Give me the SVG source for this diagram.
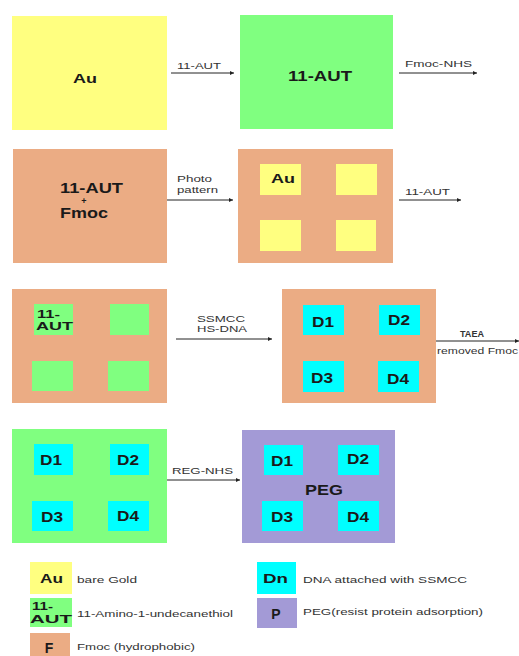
<svg xmlns="http://www.w3.org/2000/svg" width="519" height="656" viewBox="0 0 519 656">
<defs>
<style>
.y{fill:#FFFF80}.g{fill:#80FF80}.t{fill:#EBAC84}.c{fill:#00FFFF}.p{fill:#A39AD6}
.b{font-family:"Liberation Sans",Arial,sans-serif;font-weight:bold;fill:#1a1a1a}
.s{font-family:"Liberation Sans",Arial,sans-serif;font-size:9.5px;fill:#333}
.ln{stroke:#222;stroke-width:1;fill:none}
</style>
<marker id="ah" viewBox="0 0 10 10" refX="10" refY="5" markerWidth="7" markerHeight="4" markerUnits="userSpaceOnUse" orient="auto">
<path d="M0,0 L10,5 L0,10 z" fill="#222"/>
</marker>
</defs>
<rect width="519" height="656" fill="#fff"/>

<g id="connectors">
<line class="ln" x1="171" y1="73" x2="234" y2="73" stroke-width="2.2" marker-end="url(#ah)"/>
<text class="s" x="177" y="69" textLength="44" lengthAdjust="spacingAndGlyphs">11-AUT</text>
<line class="ln" x1="399" y1="73" x2="477" y2="73" marker-end="url(#ah)"/>
<text class="s" x="405" y="67" textLength="67" lengthAdjust="spacingAndGlyphs">Fmoc-NHS</text>
<line class="ln" x1="167" y1="200" x2="233" y2="200" marker-end="url(#ah)"/>
<text class="s" x="177" y="182" font-size="9" textLength="35" lengthAdjust="spacingAndGlyphs">Photo</text>
<text class="s" x="177" y="193" font-size="9" textLength="41" lengthAdjust="spacingAndGlyphs">pattern</text>
<line class="ln" x1="399" y1="200" x2="461" y2="200" marker-end="url(#ah)"/>
<text class="s" x="405" y="195" textLength="45" lengthAdjust="spacingAndGlyphs">11-AUT</text>
<line class="ln" x1="176" y1="339" x2="272" y2="339" marker-end="url(#ah)"/>
<text class="s" x="197" y="322" font-size="8" textLength="48" lengthAdjust="spacingAndGlyphs">SSMCC</text>
<text class="s" x="197" y="332" font-size="8" textLength="50" lengthAdjust="spacingAndGlyphs">HS-DNA</text>
<line class="ln" x1="435" y1="341" x2="519" y2="341" marker-end="url(#ah)"/>
<text class="s" x="460" y="337" font-size="10" font-weight="bold" fill="#222" textLength="24" lengthAdjust="spacingAndGlyphs">TAEA</text>
<text class="s" x="437" y="354" font-size="8.5" textLength="81" lengthAdjust="spacingAndGlyphs">removed Fmoc</text>
<line class="ln" x1="167" y1="480" x2="240" y2="480" stroke-width="1.4" marker-end="url(#ah)"/>
<text class="s" x="172" y="474" textLength="61" lengthAdjust="spacingAndGlyphs">REG-NHS</text>
</g>

<g id="n-au">
<rect class="y" x="12" y="16" width="155" height="114"/>
<text class="b" x="73" y="83" font-size="13" textLength="24" lengthAdjust="spacingAndGlyphs">Au</text>
</g>
<g id="n-aut">
<rect class="g" x="240" y="15" width="153" height="114"/>
<text class="b" x="288" y="81" font-size="15" textLength="64" lengthAdjust="spacingAndGlyphs">11-AUT</text>
</g>

<g id="n-autfmoc">
<rect class="t" x="13" y="149" width="154" height="114"/>
<text class="b" x="60" y="193" font-size="14" textLength="63" lengthAdjust="spacingAndGlyphs">11-AUT</text>
<text class="b" x="84" y="204" font-size="9" text-anchor="middle">+</text>
<text class="b" x="60" y="218" font-size="14" textLength="48" lengthAdjust="spacingAndGlyphs">Fmoc</text>
</g>
<g id="n-pattern">
<rect class="t" x="238" y="149" width="155" height="114"/>
<rect class="y" x="260" y="164" width="41" height="31"/>
<rect class="y" x="336" y="164" width="41" height="31"/>
<rect class="y" x="260" y="220" width="41" height="31"/>
<rect class="y" x="336" y="220" width="40" height="31"/>
<text class="b" x="271" y="183" font-size="13" textLength="24" lengthAdjust="spacingAndGlyphs">Au</text>
</g>

<g id="n-autpattern">
<rect class="t" x="12" y="289" width="155" height="114"/>
<rect class="g" x="34" y="304" width="39" height="31"/>
<rect class="g" x="110" y="304" width="39" height="31"/>
<rect class="g" x="32" y="361" width="41" height="30"/>
<rect class="g" x="108" y="361" width="41" height="30"/>
<text class="b" x="37" y="318" font-size="10.5" textLength="23" lengthAdjust="spacingAndGlyphs">11-</text>
<text class="b" x="36" y="330" font-size="10.5" textLength="37" lengthAdjust="spacingAndGlyphs">AUT</text>
</g>
<g id="n-dna">
<rect class="t" x="282" y="289" width="154" height="114"/>
<rect class="c" x="303" y="305" width="41" height="30"/>
<rect class="c" x="379" y="305" width="41" height="30"/>
<rect class="c" x="303" y="361" width="41" height="31"/>
<rect class="c" x="378" y="361" width="41" height="31"/>
<text class="b" x="312" y="327" font-size="14" textLength="22" lengthAdjust="spacingAndGlyphs">D1</text>
<text class="b" x="388" y="325" font-size="14" textLength="22" lengthAdjust="spacingAndGlyphs">D2</text>
<text class="b" x="311" y="383" font-size="14" textLength="22" lengthAdjust="spacingAndGlyphs">D3</text>
<text class="b" x="387" y="384" font-size="14" textLength="22" lengthAdjust="spacingAndGlyphs">D4</text>
</g>

<g id="n-dnagreen">
<rect class="g" x="12" y="429" width="155" height="114"/>
<rect class="c" x="34" y="444" width="39" height="31"/>
<rect class="c" x="110" y="444" width="39" height="31"/>
<rect class="c" x="32" y="501" width="41" height="30"/>
<rect class="c" x="108" y="501" width="41" height="30"/>
<text class="b" x="40" y="465" font-size="14" textLength="22" lengthAdjust="spacingAndGlyphs">D1</text>
<text class="b" x="117" y="465" font-size="14" textLength="22" lengthAdjust="spacingAndGlyphs">D2</text>
<text class="b" x="41" y="522" font-size="14" textLength="22" lengthAdjust="spacingAndGlyphs">D3</text>
<text class="b" x="117" y="521" font-size="14" textLength="22" lengthAdjust="spacingAndGlyphs">D4</text>
</g>
<g id="n-peg">
<rect class="p" x="242" y="430" width="153" height="113"/>
<rect class="c" x="264" y="445" width="39" height="30"/>
<rect class="c" x="338" y="445" width="41" height="30"/>
<rect class="c" x="262" y="501" width="41" height="30"/>
<rect class="c" x="338" y="501" width="41" height="30"/>
<text class="b" x="271" y="466" font-size="14" textLength="22" lengthAdjust="spacingAndGlyphs">D1</text>
<text class="b" x="347" y="464" font-size="14" textLength="22" lengthAdjust="spacingAndGlyphs">D2</text>
<text class="b" x="271" y="522" font-size="14" textLength="22" lengthAdjust="spacingAndGlyphs">D3</text>
<text class="b" x="347" y="522" font-size="14" textLength="22" lengthAdjust="spacingAndGlyphs">D4</text>
<text class="b" x="305" y="495" font-size="14" textLength="38" lengthAdjust="spacingAndGlyphs">PEG</text>
</g>

<g id="legend">
<rect class="y" x="30" y="562" width="42" height="32"/>
<text class="b" x="40" y="583" font-size="13" textLength="23" lengthAdjust="spacingAndGlyphs">Au</text>
<text class="s" x="77" y="583" textLength="60" lengthAdjust="spacingAndGlyphs">bare Gold</text>
<rect class="g" x="30" y="598" width="42" height="29"/>
<text class="b" x="32" y="610" font-size="11" textLength="21" lengthAdjust="spacingAndGlyphs">11-</text>
<text class="b" x="30" y="623" font-size="11" textLength="42" lengthAdjust="spacingAndGlyphs">AUT</text>
<text class="s" x="77" y="617" textLength="156" lengthAdjust="spacingAndGlyphs">11-Amino-1-undecanethiol</text>
<rect class="t" x="30" y="633" width="40" height="25"/>
<text class="b" x="49" y="653" font-size="14" text-anchor="middle">F</text>
<text class="s" x="77" y="650" textLength="118" lengthAdjust="spacingAndGlyphs">Fmoc (hydrophobic)</text>
<rect class="c" x="257" y="562" width="39" height="32"/>
<text class="b" x="263" y="583" font-size="13" textLength="25" lengthAdjust="spacingAndGlyphs">Dn</text>
<text class="s" x="303" y="583" textLength="164" lengthAdjust="spacingAndGlyphs">DNA attached with SSMCC</text>
<rect class="p" x="257" y="598" width="40" height="30"/>
<text class="b" x="276" y="619" font-size="14" text-anchor="middle">P</text>
<text class="s" x="303" y="615" textLength="180" lengthAdjust="spacingAndGlyphs">PEG(resist protein adsorption)</text>
</g>
</svg>
